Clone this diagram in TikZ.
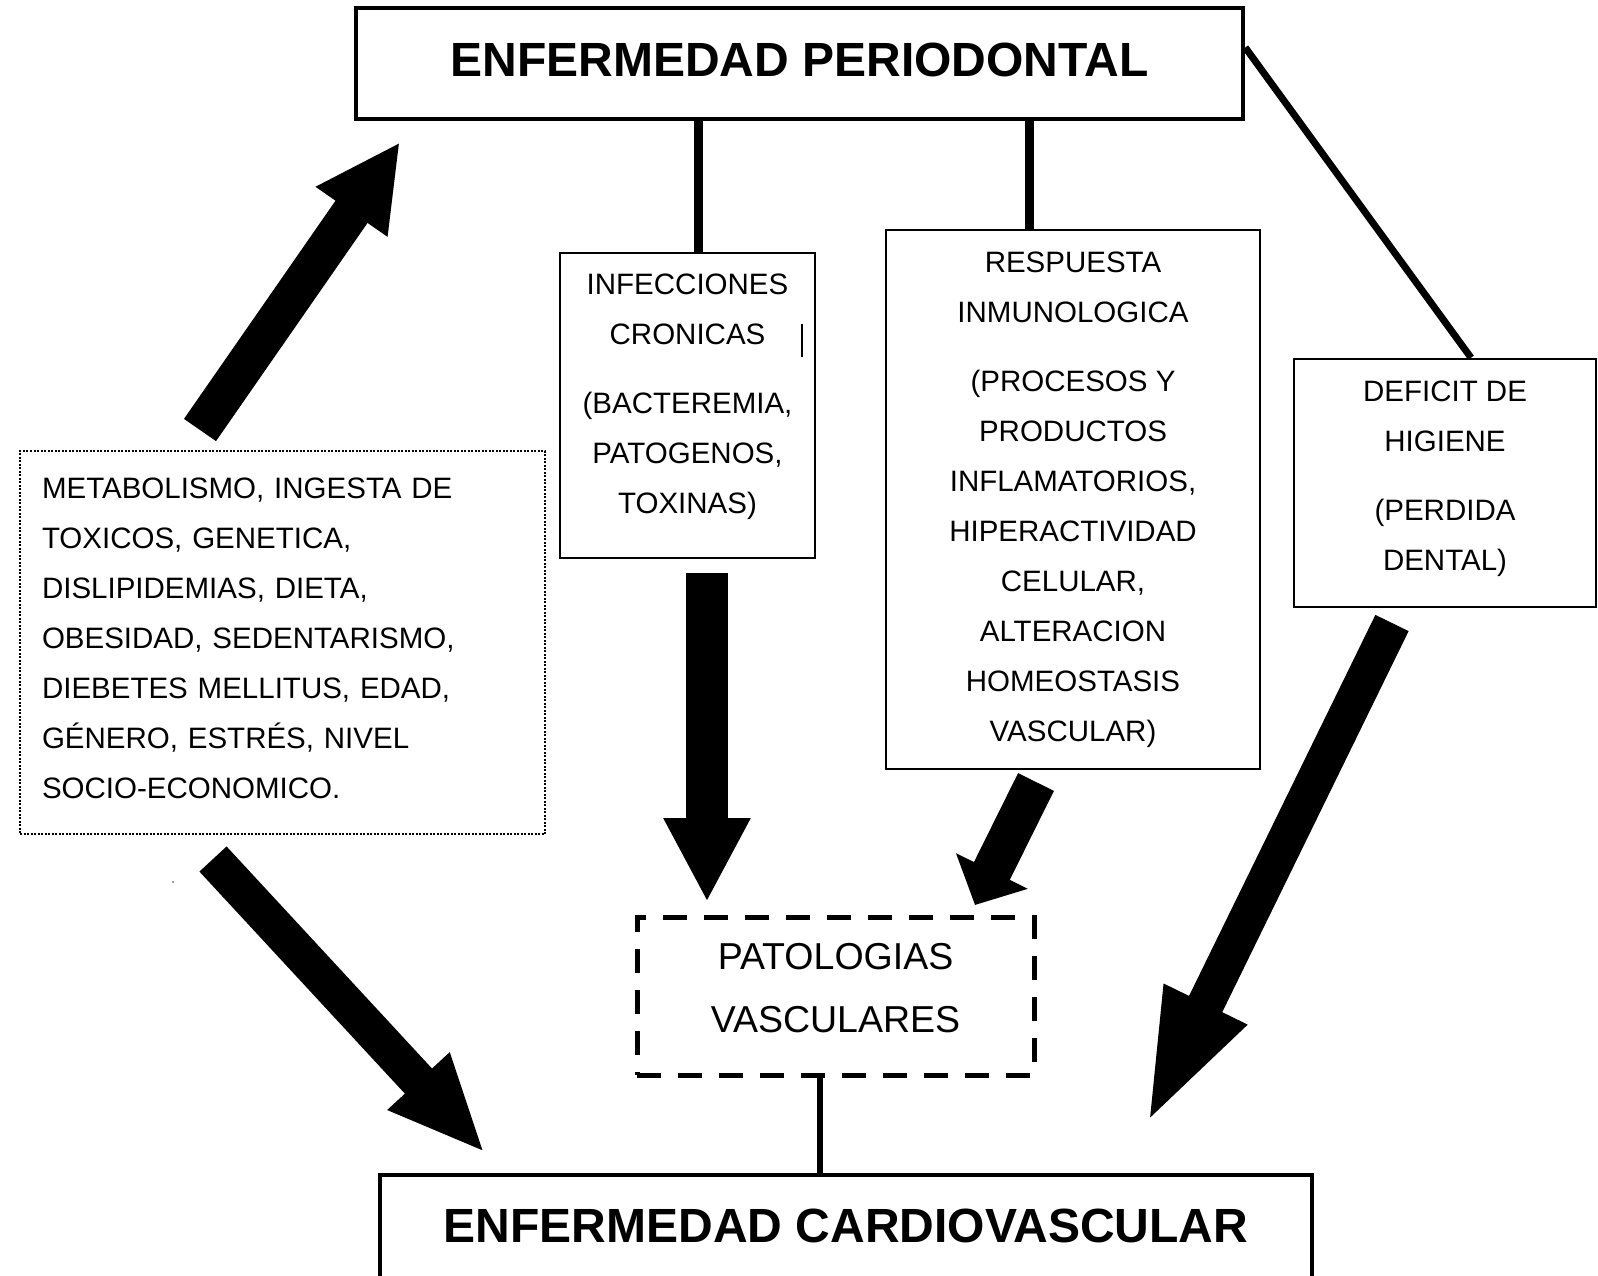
\documentclass[tikz,border=0pt]{standalone}
\usepackage{fontspec}
\setmainfont{Liberation Sans}
\usetikzlibrary{arrows.meta}

\begin{document}
\begin{tikzpicture}[x=1pt,y=-1pt,
    mainbox/.style={draw, line width=4.5pt, inner sep=0pt},
    infobox/.style={draw, line width=2.5pt, inner sep=0pt},
    titletext/.style={inner sep=0pt, font=\fontsize{48}{58}\selectfont\bfseries},
    infotext/.style={inner sep=0pt, align=center, font=\fontsize{29.5}{50}\selectfont},
    link/.style={line width=#1}, link/.default=9pt,
    blockarrow/.style={line width=#1, line cap=butt}]
    \useasboundingbox (0,0) rectangle (1598,1275);
    \clip (0,0) rectangle (1598,1275);

    % Draw the two main boxes
    \node[mainbox, minimum width=887pt, minimum height=111pt] (periodontal) at (799.5,63.5) {};
    \node[titletext] (periodontaltext) at ([yshift=4pt]periodontal) {ENFERMEDAD PERIODONTAL};
    \node[mainbox, minimum width=932pt, minimum height=110pt] (cardio) at (846,1230) {};
    \node[titletext] (cardiotext) at ([yshift=4pt]cardio) {ENFERMEDAD CARDIOVASCULAR};

    % Boxes under the top one
    \node[infobox, minimum width=255pt, minimum height=305pt] (infec) at (687.5,405.5) {};
    \node[infotext] (infectext) at ([yshift=9pt]infec)
        {INFECCIONES\\CRONICAS\\[19pt](BACTEREMIA,\\PATOGENOS,\\TOXINAS)};
    \node[infobox, minimum width=374pt, minimum height=539pt] (resp) at (1073,499.5) {};
    \node[infotext] (resptext) at (resp)
        {RESPUESTA\\INMUNOLOGICA\\[19pt](PROCESOS Y\\PRODUCTOS\\INFLAMATORIOS,\\HIPERACTIVIDAD\\CELULAR,\\ALTERACION\\HOMEOSTASIS\\VASCULAR)};
    \node[infobox, minimum width=302pt, minimum height=248pt] (deficit) at (1445,483) {};
    \node[infotext] (deficittext) at ([yshift=4pt]deficit)
        {DEFICIT DE\\HIGIENE\\[19pt](PERDIDA\\DENTAL)};
    \draw[line width=2.5pt] (802,324) -- (802,357);

    % Risk factors (dotted box)
    \node[infobox, line width=2pt, dash pattern=on 2pt off 1.5pt, minimum width=525pt,
          minimum height=383pt] (factores) at (282.5,642.5) {};
    \node[infotext, align=left, text width=481pt] (factorestext) at ([yshift=4pt]factores)
        {METABOLISMO, INGESTA DE\\TOXICOS, GENETICA,\\DISLIPIDEMIAS, DIETA,\\OBESIDAD, SEDENTARISMO,\\DIEBETES MELLITUS, EDAD,\\GÉNERO, ESTRÉS, NIVEL\\SOCIO-ECONOMICO.};

    % Vascular pathologies (dashed box)
    \node[draw, line width=5pt, dash pattern=on 24pt off 17pt, inner sep=0pt,
          minimum width=397pt, minimum height=158pt] (vascular) at (835.5,996) {};
    \node[infotext, font=\fontsize{37.5}{63}\selectfont] (vasculartext) at ([yshift=8pt]vascular)
        {PATOLOGIAS\\VASCULARES};

    % Plain connectors
    \coordinate (c1) at (698,0);
    \coordinate (c2) at (1029,0);
    \coordinate (c3) at (820,0);
    \draw[link] (c1 |- periodontal.south) -- (c1 |- infec.north);
    \draw[link] (c2 |- periodontal.south) -- (c2 |- resp.north);
    \draw[link=7pt] ([yshift=16pt]periodontal.east) -- ([xshift=26pt]deficit.north);
    \draw[link=6pt] (c3 |- vascular.south) -- (c3 |- cardio.north);

    % Block arrows
    \coordinate (a1s) at (200,430);  \coordinate (a1e) at (400,142);
    \coordinate (a2s) at (213,859);  \coordinate (a2e) at (485,1153);
    \coordinate (a3s) at (707,573);  \coordinate (a3e) at (707,902);
    \coordinate (a4s) at (1036,782); \coordinate (a4e) at (975,905);
    \coordinate (a5s) at (1392,623); \coordinate (a5e) at (1145,1128);
    \draw[blockarrow=39pt, -{Triangle[length=85pt,width=81pt]}] (a1s) -- (a1e);
    \draw[blockarrow=37pt, -{Triangle[length=98pt,width=77pt]}] (a2s) -- (a2e);
    \draw[blockarrow=42pt, -{Triangle[length=84pt,width=81pt]}] (a3s) -- (a3e);
    \draw[blockarrow=40pt, -{Triangle[length=38pt,width=78pt]}] (a4s) -- (a4e);
    \draw[blockarrow=37pt, -{Triangle[length=138pt,width=81pt]}] (a5s) -- (a5e);

    % Stray dot
    \fill[gray] (173,882) circle (1.2pt);
\end{tikzpicture}
\end{document}
